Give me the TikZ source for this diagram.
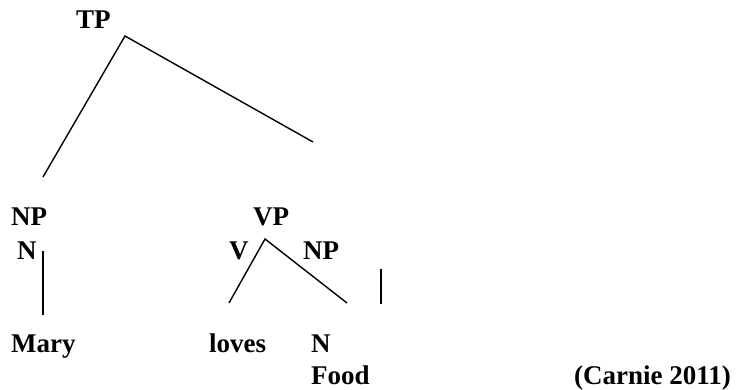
\documentclass[tikz,border=0pt]{standalone}
\usepackage{fontspec}
\setmainfont{Liberation Serif}
\usepackage{tikz}
\usetikzlibrary{positioning}

\tikzset{
  cat/.style={anchor=base west, inner sep=0pt, font=\fontsize{27}{32}\selectfont\bfseries},
  branch/.style={line width=1.4pt}
}

\begin{document}
\begin{tikzpicture}[x=1pt, y=-1pt]
  \useasboundingbox (0,0) rectangle (740,390);

  % Labels
  \node[cat] (tp)    at (76, 29)   {TP};
  \node[cat] (np)    at (11, 226)  {NP};
  \node[cat] (n)     at (17, 260)  {N};
  \node[cat] (vp)    at (253, 226) {VP};
  \node[cat] (v)     at (229, 260) {V};
  \node[cat] (npo)   at (303, 260) {NP};
  \node[cat] (mary)  at (11, 353)  {Mary};
  \node[cat] (loves) at (209, 353) {loves};
  \node[cat] (no)    at (311, 353) {N};
  \node[cat] (food)  at (311, 385) {Food};
  \node[cat] (cite)  at (574, 385) {(Carnie 2011)};

  % Branch ends
  \coordinate (tptop) at (125, 36);
  \coordinate (tpl)   at (43, 177);
  \coordinate (tpr)   at (313, 142);
  \coordinate (ntop)  at (43, 251);
  \coordinate (nbot)  at (43, 315);
  \coordinate (vptop) at (265, 239);
  \coordinate (vpl)   at (229, 303);
  \coordinate (vpr)   at (347, 303);
  \coordinate (stop)  at (381, 269);
  \coordinate (sbot)  at (381, 304);

  % Branches
  \draw[branch] (tpl) -- (tptop) -- (tpr);
  \draw[branch] (ntop) -- (nbot);
  \draw[branch] (vpl) -- (vptop) -- (vpr);
  \draw[branch] (stop) -- (sbot);
\end{tikzpicture}
\end{document}
